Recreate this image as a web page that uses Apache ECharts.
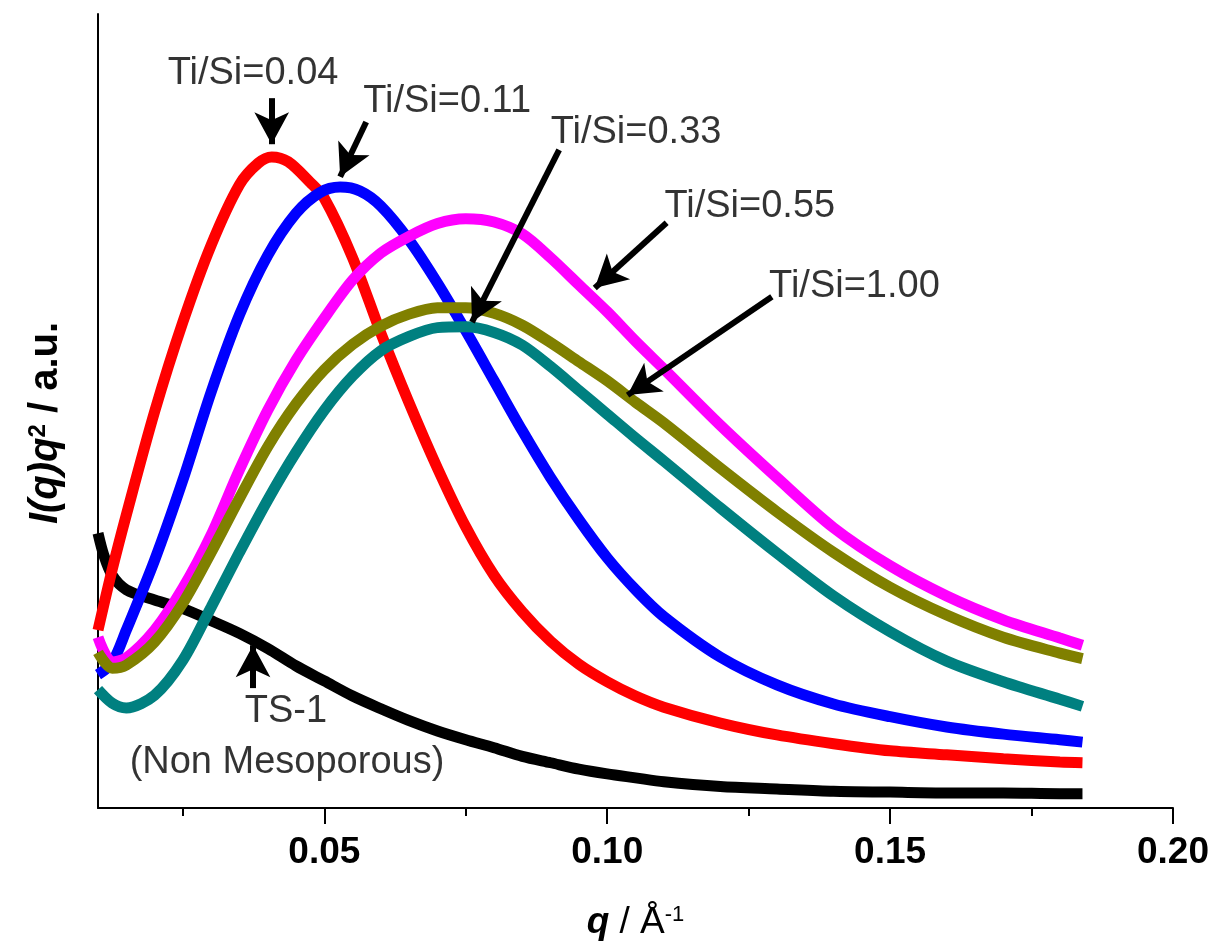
<!DOCTYPE html>
<html>
<head>
<meta charset="utf-8">
<title>SAXS Kratky</title>
<script src="https://cdn.jsdelivr.net/npm/echarts@6/dist/echarts.min.js"></script>
<style>
  html, body { margin: 0; padding: 0; background: #fff; }
  #main { width: 1213px; height: 949px; }
</style>
</head>
<body>
<div id="main"></div>
<script>
// q 取样点 (Å^-1)
const qValues = [0.0100, 0.0125, 0.015, 0.020, 0.025, 0.030, 0.035, 0.040, 0.045, 0.050,
  0.055, 0.060, 0.065, 0.070, 0.075, 0.080, 0.085, 0.090, 0.095, 0.100,
  0.105, 0.110, 0.120, 0.130, 0.140, 0.150, 0.160, 0.170, 0.180, 0.184]
const qRed = [0.0100, 0.0125, 0.015, 0.020, 0.025, 0.030, 0.035, 0.0383, 0.0407, 0.0436, 0.0475,
  0.050, 0.055, 0.060, 0.065, 0.070, 0.075, 0.080, 0.085, 0.090, 0.095, 0.100,
  0.105, 0.110, 0.120, 0.130, 0.140, 0.150, 0.160, 0.170, 0.180, 0.184]
const qBlue = [0.0100, 0.0125, 0.015, 0.020, 0.025, 0.030, 0.035, 0.040, 0.045, 0.0492, 0.0528, 0.0563,
  0.060, 0.065, 0.070, 0.075, 0.080, 0.085, 0.090, 0.095, 0.100,
  0.105, 0.110, 0.120, 0.130, 0.140, 0.150, 0.160, 0.170, 0.180, 0.184]
const qBlack = [0.0100, 0.0110, 0.0125, 0.015, 0.020, 0.025, 0.030, 0.035, 0.040, 0.045, 0.050,
  0.055, 0.060, 0.065, 0.070, 0.075, 0.080, 0.085, 0.090, 0.095, 0.100,
  0.105, 0.110, 0.120, 0.130, 0.140, 0.150, 0.160, 0.170, 0.180, 0.184]

// I(q)q^2, a.u.
const ti004 = [22.4, 30.0, 36.9, 49.9, 61.2, 70.9, 78.5, 81.2, 82.0, 81.4, 78.8, 76.8, 69.3, 59.8, 51.0, 42.8,
  35.4, 29.3, 24.7, 21.0, 18.1, 15.9, 14.1, 12.7, 10.7, 9.2, 8.1, 7.2, 6.7, 6.2, 5.8, 5.7]
const ti011 = [16.8, 18.3, 22.4, 31.2, 41.3, 52.4, 62.1, 69.6, 74.9, 77.5, 78.2, 77.7, 75.8, 71.5, 66.1, 60.1,
  53.8, 47.5, 41.6, 36.3, 31.5, 27.5, 24.1, 19.0, 15.5, 13.1, 11.5, 10.2, 9.3, 8.6, 8.3]
const ti055 = [21.5, 18.4, 18.9, 22.4, 27.7, 34.4, 42.6, 50.1, 56.4, 61.7, 66.5, 69.9, 72.0, 73.6, 74.2,
  73.8, 72.3, 69.3, 65.9, 62.5, 58.8, 55.3, 48.2, 41.6, 35.3, 30.5, 26.7, 23.7, 21.4, 20.5]
const ti100 = [19.6, 17.6, 18.0, 20.9, 25.8, 32.2, 39.0, 45.5, 50.9, 55.2, 58.4, 60.7, 62.2, 63.0, 63.0,
  62.3, 60.8, 58.6, 56.2, 53.8, 51.1, 48.5, 42.8, 37.3, 32.2, 27.8, 24.3, 21.5, 19.5, 18.8]
const ti033 = [14.9, 13.2, 12.6, 14.2, 18.6, 25.3, 32.2, 38.8, 44.8, 50.1, 54.4, 57.6, 59.4, 60.5, 60.6,
  59.9, 58.3, 55.6, 52.6, 49.6, 46.6, 43.7, 37.8, 32.1, 26.7, 22.2, 18.5, 15.9, 13.7, 12.8]
const ts1 = [34.6, 31.9, 29.3, 27.5, 26.2, 25.1, 23.6, 22.0, 20.1, 17.9, 16.0, 14.1, 12.5, 11.0, 9.7,
  8.6, 7.6, 6.5, 5.7, 4.9, 4.3, 3.8, 3.3, 2.7, 2.4, 2.1, 2.0, 1.9, 1.9, 1.8, 1.8]

// 刻度
const majorTicks = [0.05, 0.10, 0.15, 0.20]
const minorTicks = [0.025, 0.075, 0.125, 0.175]

// 标注文字 [q, y, text]
const annTexts = [
  [0.0374, 92.5, 'Ti/Si=0.04'],
  [0.0717, 89.0, 'Ti/Si=0.11'],
  [0.1051, 85.1, 'Ti/Si=0.33'],
  [0.1252, 75.7, 'Ti/Si=0.55'],
  [0.1437, 65.7, 'Ti/Si=1.00'],
  [0.0432, 12.1, 'TS-1'],
  [0.0434, 5.7, '(Non Mesoporous)']
]
// 箭头 [起点q, 起点y, 终点q, 终点y]
const annArrows = [
  [0.0407, 89.4, 0.0407, 83.6],
  [0.0574, 86.4, 0.0528, 79.5],
  [0.0915, 82.9, 0.0761, 61.2],
  [0.1105, 73.7, 0.0978, 65.5],
  [0.1291, 64.4, 0.1036, 52.0],
  [0.0374, 15.1, 0.0374, 20.5]
]

const FONT = '"Liberation Sans", Arial, Helvetica, sans-serif'

function curve(name, xs, ys, color) {
  return {
    name: name,
    type: 'line',
    data: xs.map((q, i) => [q, ys[i]]),
    showSymbol: false,
    smooth: 0.3,
    lineStyle: { color: color, width: 11 },
    emphasis: { disabled: true },
    silent: true
  }
}

const chart = echarts.init(document.getElementById('main'))

chart.setOption({
  animation: false,
  backgroundColor: '#fff',
  grid: { left: 98, right: 40, top: 14, bottom: 141 },
  xAxis: [{
    type: 'value',
    min: 0.01,
    max: 0.2,
    name: '{bi|q}{n| / Å}{sup|-1}',
    nameLocation: 'middle',
    nameGap: 96,
    nameTextStyle: {
      rich: {
        bi: { fontFamily: FONT, fontSize: 37, fontWeight: 'bold', fontStyle: 'italic', color: '#000' },
        n: { fontFamily: FONT, fontSize: 37, color: '#000' },
        sup: { fontFamily: FONT, fontSize: 22, color: '#000', verticalAlign: 'top', padding: [0, 0, 14, 0] }
      }
    },
    axisLine: { lineStyle: { color: '#000', width: 2 } },
    axisTick: { customValues: majorTicks, length: 16, lineStyle: { color: '#000', width: 2 } },
    axisLabel: {
      customValues: majorTicks,
      formatter: v => v.toFixed(2),
      margin: 26,
      fontFamily: FONT,
      fontSize: 37,
      fontWeight: 'bold',
      color: '#000'
    },
    splitLine: { show: false }
  }, {
    // 次刻度
    type: 'value',
    min: 0.01,
    max: 0.2,
    position: 'bottom',
    axisLine: { show: false },
    axisTick: { customValues: minorTicks, length: 8, lineStyle: { color: '#000', width: 2 } },
    axisLabel: { show: false },
    splitLine: { show: false }
  }],
  yAxis: {
    type: 'value',
    min: 0,
    max: 100,
    name: '{bi|I(q)q}{sup|2}{b| / a.u.}',
    nameLocation: 'middle',
    nameRotate: 90,
    nameGap: 32,
    nameTextStyle: {
      padding: [0, 24, 0, 0],
      rich: {
        bi: { fontFamily: FONT, fontSize: 40, fontWeight: 'bold', fontStyle: 'italic', color: '#000' },
        b: { fontFamily: FONT, fontSize: 40, fontWeight: 'bold', color: '#000' },
        sup: { fontFamily: FONT, fontSize: 24, fontWeight: 'bold', color: '#000', verticalAlign: 'top', padding: [0, 0, 15, 0] }
      }
    },
    axisLine: { show: true, lineStyle: { color: '#000', width: 2 } },
    axisTick: { show: false },
    axisLabel: { show: false },
    splitLine: { show: false }
  },
  series: [
    curve('TS-1', qBlack, ts1, '#000000'),
    curve('Ti/Si=0.04', qRed, ti004, '#ff0000'),
    curve('Ti/Si=0.11', qBlue, ti011, '#0000ff'),
    curve('Ti/Si=0.55', qValues, ti055, '#ff00ff'),
    curve('Ti/Si=1.00', qValues, ti100, '#808000'),
    curve('Ti/Si=0.33', qValues, ti033, '#008080'),
    {
      name: 'labels',
      type: 'scatter',
      data: annTexts,
      symbolSize: 0.1,
      itemStyle: { color: 'transparent' },
      silent: true,
      z: 10,
      label: {
        show: true,
        position: 'inside',
        formatter: p => p.data[2],
        fontFamily: FONT,
        fontSize: 38,
        color: '#000000',
        textBorderWidth: 0
      },
      markLine: {
        silent: true,
        symbol: ['none', 'arrow'],
        symbolSize: [26, 32],
        label: { show: false },
        lineStyle: { color: '#000', width: 6, type: 'solid' },
        data: annArrows.map(a => [{ coord: [a[0], a[1]] }, { coord: [a[2], a[3]] }])
      }
    }
  ]
})
</script>
</body>
</html>
